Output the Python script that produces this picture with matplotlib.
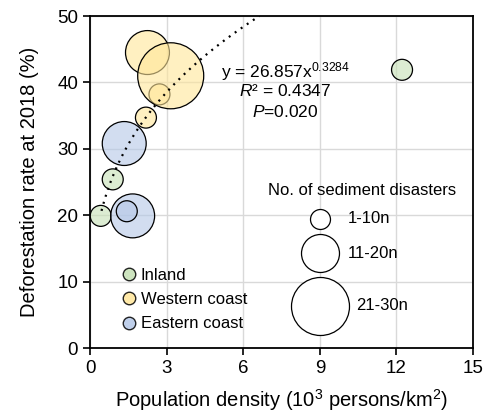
import numpy as np
import matplotlib.pyplot as plt
from matplotlib.lines import Line2D

plt.rcParams['font.family'] = ['Liberation Sans', 'DejaVu Sans']
plt.rcParams['mathtext.fontset'] = 'custom'
plt.rcParams['mathtext.rm'] = 'Liberation Sans'
plt.rcParams['mathtext.it'] = 'Liberation Sans:italic'

# data
region = ['Inland', 'Inland', 'Inland',
          'Western coast', 'Western coast', 'Western coast', 'Western coast',
          'Eastern coast', 'Eastern coast', 'Eastern coast']
density = [0.42, 0.89, 12.22, 2.19, 2.72, 2.25, 3.16, 1.34, 1.67, 1.44]
deforest = [19.9, 25.4, 41.9, 34.7, 38.2, 44.5, 41.0, 30.8, 19.9, 20.6]
disaster_class = [1, 1, 1, 1, 1, 2, 3, 2, 2, 1]

regions = ['Inland', 'Western coast', 'Eastern coast']
face = {'Inland': '#c5e0b4', 'Western coast': '#ffe699', 'Eastern coast': '#b4c7e7'}
marker_area = {1: 228, 2: 1000, 3: 2260}

size_labels = ['1-10n', '11-20n', '21-30n']
size_legend_area = [207, 748, 1744]

fit_a, fit_b = 26.857, 0.3284

fig = plt.figure(figsize=(4.85, 4.15), dpi=100)
ax = fig.add_axes([0.1856, 0.1614, 0.7897, 0.8])

# fitted power curve
xf = np.linspace(0.45, (50 / fit_a) ** (1 / fit_b), 200)
ax.plot(xf, fit_a * xf ** fit_b, color='black', linestyle=(0, (0.9, 2.4)), lw=1.6, zorder=4)

for x, y, r, c in zip(density, deforest, region, disaster_class):
    ax.scatter(x, y, s=marker_area[c], facecolor=face[r], edgecolor='none',
               alpha=0.6, zorder=3)
    ax.scatter(x, y, s=marker_area[c], facecolor='none', edgecolor='black',
               linewidth=0.9, zorder=3)

ax.text(0.51, 0.834, r'y = 26.857x$^{0.3284}$', transform=ax.transAxes,
        ha='center', va='center', fontsize=12.5)
ax.text(0.51, 0.774, r'$R$² = 0.4347', transform=ax.transAxes,
        ha='center', va='center', fontsize=12.5)
ax.text(0.51, 0.711, r'$P$=0.020', transform=ax.transAxes,
        ha='center', va='center', fontsize=12.5)

# size legend
ax.text(0.71, 0.473, 'No. of sediment disasters', transform=ax.transAxes,
        ha='center', va='center', fontsize=12)
size_y = [0.389, 0.286, 0.127]
size_tx = [0.674, 0.674, 0.695]
for lab, a, yy, tx in zip(size_labels, size_legend_area, size_y, size_tx):
    ax.scatter(0.6, yy, s=a, facecolor='white', edgecolor='black', linewidth=0.9,
               transform=ax.transAxes, zorder=3)
    ax.text(tx, yy, lab, transform=ax.transAxes, ha='left', va='center', fontsize=12)

handles = [Line2D([], [], marker='o', linestyle='none', markersize=9,
                  markerfacecolor=face[r], markeredgecolor='black',
                  markeredgewidth=1.0, alpha=0.85) for r in regions]
ax.legend(handles, regions, loc='lower left', bbox_to_anchor=(0.045, 0.015),
          frameon=False, fontsize=12, handletextpad=0.1, labelspacing=0.55,
          borderpad=0.2, handlelength=1.2)

ax.set_xlim(0, 15)
ax.set_ylim(0, 50)
ax.set_xticks(np.arange(0, 16, 3))
ax.set_yticks(np.arange(0, 51, 10))
ax.grid(True, color='#d9d9d9', linewidth=1)
ax.set_axisbelow(True)
ax.tick_params(direction='out', length=5, width=1.2, labelsize=13.5, colors='black')
for sp in ax.spines.values():
    sp.set_linewidth(1.3)

ax.set_xlabel('Population density (10$^3$ persons/km$^2$)', fontsize=14.5, labelpad=7.5)
ax.set_ylabel('Deforestation rate at 2018 (%)', fontsize=14.5, labelpad=13)

fig.savefig('out.png', dpi=100)
